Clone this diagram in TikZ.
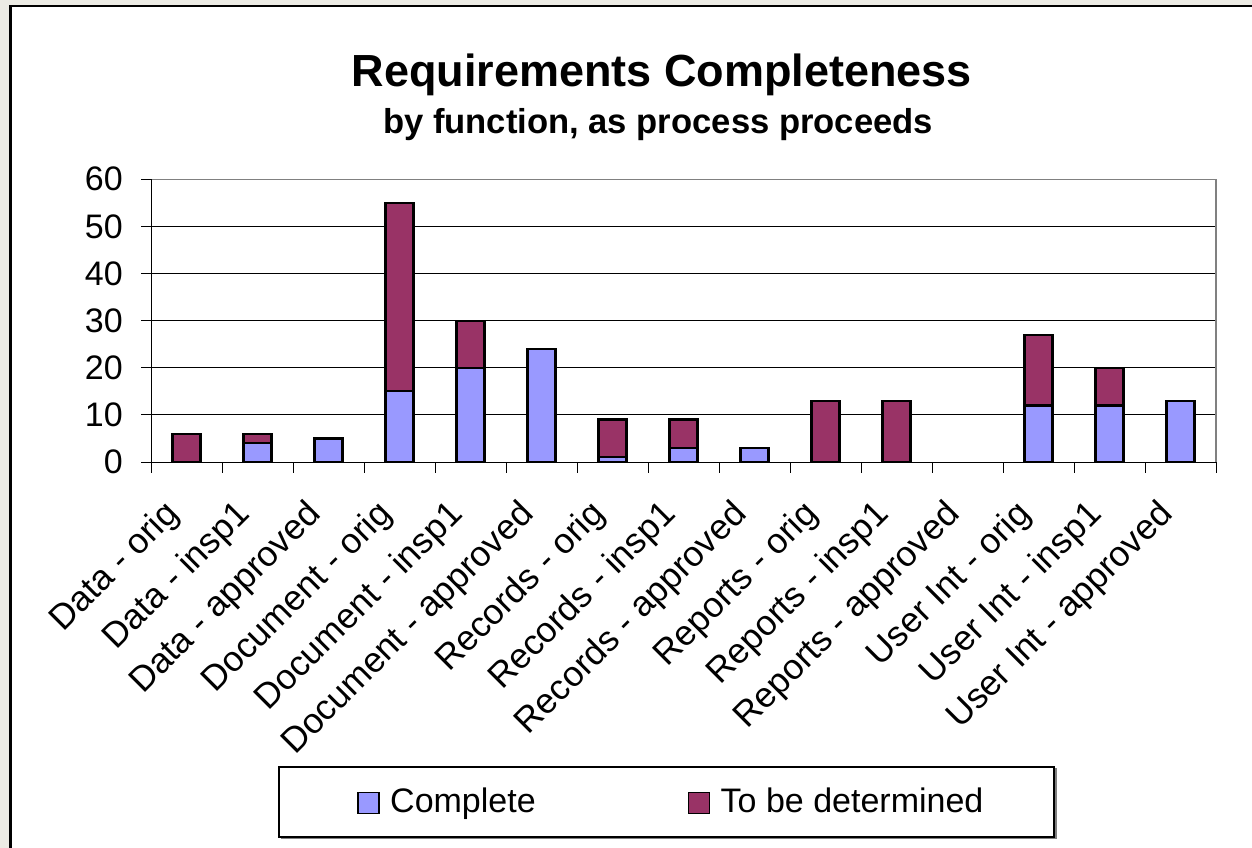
\documentclass[tikz,border=0pt]{standalone}
\usepackage{fontspec}
\setmainfont{Liberation Sans}
\definecolor{bg}{RGB}{236,235,228}
\definecolor{compl}{RGB}{153,153,255}
\definecolor{tbd}{RGB}{153,51,102}
\definecolor{plotframe}{RGB}{128,128,128}
\begin{document}
\begin{tikzpicture}[x=1pt,y=-1pt,
  txt/.style={font=\fontsize{34}{40}\selectfont, inner sep=0pt},
  catlab/.style={font=\fontsize{35.3}{42}\selectfont, inner sep=0pt, rotate=45, anchor=east, text height=26pt, text depth=7pt},
  barbox/.style={draw=black, line width=2.2pt},
  gridline/.style={black, line width=1pt},
  axisline/.style={black, line width=1pt},
  framegray/.style={plotframe, line width=1.6pt},
  legsq/.style={draw=black, line width=1.4pt, minimum size=21pt, inner sep=0pt}]
\useasboundingbox (0,0) rectangle (1252,848);
% background and frame
\fill[bg] (0,0) rectangle (1252,848);
\fill[white] (12,7) rectangle (1252,848);
\draw[black, line width=2.7pt] (10.7,848) -- (10.7,6) -- (1252,6);
% titles
\node[font=\bfseries\fontsize{45}{54}\selectfont, anchor=base, inner sep=0pt] (title) at (662,87) {Requirements Completeness};
\node[font=\bfseries\fontsize{34.6}{42}\selectfont, anchor=base, inner sep=0pt] (subtitle) at (658,133) {by function, as process proceeds};
% gridlines
\foreach \v in {10,20,30,40,50} {
  \draw[gridline] (151,{462-4.712*\v}) -- (1216,{462-4.712*\v});
}
% plot frame (gray top and right)
\draw[framegray] (151,179.3) -- (1216,179.3) -- (1216,462);
% y ticks and labels
\foreach \v in {0,10,20,30,40,50,60} {
  \draw[axisline] (141,{462-4.712*\v}) -- (151,{462-4.712*\v});
  \node[txt, anchor=east] (y\v) at (123,{462-4.712*\v}) {\v};
}
% bars and category labels
\foreach \c/\t/\nm [count=\i from 0] in {
  0/6/Data - orig, 4/2/Data - insp1, 5/0/Data - approved,
  15/40/Document - orig, 20/10/Document - insp1, 24/0/Document - approved,
  1/8/Records - orig, 3/6/Records - insp1, 3/0/Records - approved,
  0/13/Reports - orig, 0/13/Reports - insp1, 0/0/Reports - approved,
  12/15/User Int - orig, 12/8/User Int - insp1, 13/0/User Int - approved} {
  \pgfmathsetmacro\xl{151+71*\i+35.5-14}
  \pgfmathsetmacro\xr{\xl+28}
  \pgfmathsetmacro\yc{462-4.712*\c}
  \pgfmathsetmacro\yt{462-4.712*(\c+\t)}
  \ifdim\c pt>0pt \filldraw[barbox, fill=compl] (\xl,462) rectangle (\xr,\yc); \fi
  \ifdim\t pt>0pt \filldraw[barbox, fill=tbd] (\xl,\yc) rectangle (\xr,\yt); \fi
  \node[catlab] (cat\i) at ({151+71*\i+35.5-13},509) {\nm};
}
% axes
\draw[axisline] (151,179.3) -- (151,473);
\draw[axisline] (141,462) -- (1216,462);
\foreach \j in {1,...,15} {
  \draw[axisline] ({151+71*\j},462) -- ({151+71*\j},473);
}
% legend
\draw[plotframe, line width=2pt] (281,838) -- (1056,838) -- (1056,768);
\draw[black, line width=1.2pt, fill=white] (279,767) rectangle (1054,837);
\node[legsq, fill=compl] (sqc) at (368.5,803) {};
\node[txt, anchor=base west] (legc) at (390,812.5) {Complete};
\node[legsq, fill=tbd] (sqt) at (698.8,803) {};
\node[txt, anchor=base west] (legt) at (720.5,812.5) {To be determined};
\end{tikzpicture}
\end{document}
